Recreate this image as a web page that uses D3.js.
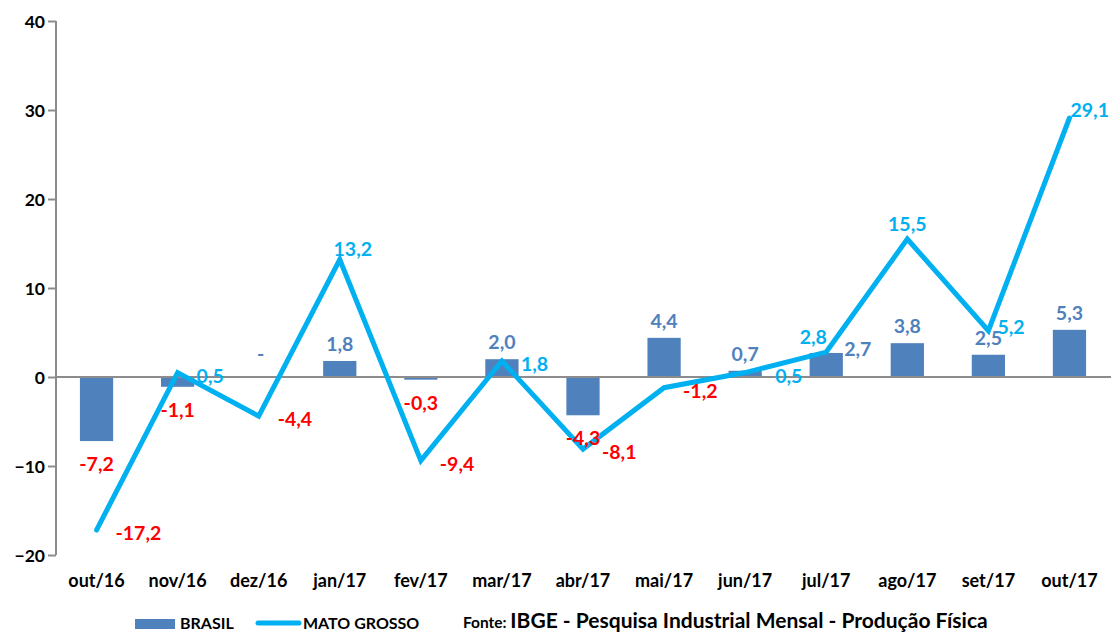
<!DOCTYPE html>
<html><head><meta charset="utf-8">
<script src="https://cdn.jsdelivr.net/npm/d3@7"></script>
<style>body{margin:0;background:#fff}svg{display:block}text{font-family:Lato,"Open Sans",sans-serif;font-weight:700}</style>
</head><body>
<svg id="c" width="1111" height="633"></svg>
<script>
const categories = ["out/16","nov/16","dez/16","jan/17","fev/17","mar/17","abr/17","mai/17","jun/17","jul/17","ago/17","set/17","out/17"];
const brasil = [-7.2,-1.1,0,1.8,-0.3,2.0,-4.3,4.4,0.7,2.7,3.8,2.5,5.3];
const matoGrosso = [-17.2,0.5,-4.4,13.2,-9.4,1.8,-8.1,-1.2,0.5,2.8,15.5,5.2,29.1];
const yTicks = [-20,-10,0,10,20,30,40];
// label placement (style only)
const brasilPos = ["below","below","dash","above","below","above","below","above","above","right","above","above","above"];
const mtPos = ["right","right","right","aboveright","right","right","right","right","farright","aboveleft","above","nearright","corner"];

const svg = d3.select("#c");
const x = d3.scaleBand().domain(categories).range([56,1110]).paddingInner(0.59).paddingOuter(0.295);
const y = d3.scaleLinear().domain([-20,40]).range([555,21]);
const cx = d => x(d) + x.bandwidth()/2;
const fmt = v => v.toFixed(1).replace(".", ",");
const barColor = "#4F81BD", lineColor = "#00B0F0", red = "#FF0000";

// y axis
const ya = svg.append("g").attr("transform","translate(56,0)")
  .call(d3.axisLeft(y).tickValues(yTicks).tickSize(8).tickPadding(6).tickFormat(d3.format("d")));
ya.select(".domain").attr("stroke","#8c8c8c").attr("stroke-width",2).attr("d","M0,21V555");
ya.selectAll(".tick line").attr("stroke","#8c8c8c").attr("stroke-width",2);
ya.selectAll(".tick text").attr("font-size",17.5).attr("fill","#000").attr("x",-11).attr("dy","0.35em");

// bars
svg.selectAll("rect.bar").data(brasil).join("rect").attr("class","bar")
  .attr("x",(d,i)=>x(categories[i])).attr("width",x.bandwidth())
  .attr("y",d=>y(Math.max(0,d))).attr("height",d=>Math.abs(y(d)-y(0)))
  .attr("fill",barColor);

// zero line
svg.append("line").attr("x1",56).attr("x2",1111).attr("y1",y(0)).attr("y2",y(0)).attr("stroke","#8c8c8c").attr("stroke-width",2);

// category labels
svg.selectAll("text.cat").data(categories).join("text").attr("class","cat")
  .attr("x",d=>cx(d)).attr("y",587).attr("text-anchor","middle").attr("font-size",18).attr("fill","#000").text(d=>d);

// line
const line = d3.line().x((d,i)=>cx(categories[i])).y(d=>y(d));
svg.append("path").datum(matoGrosso).attr("d",line).attr("fill","none")
  .attr("stroke",lineColor).attr("stroke-width",5).attr("stroke-linejoin","miter").attr("stroke-linecap","round");

// brasil labels
brasil.forEach((v,i)=>{
  const px = cx(categories[i]); const py = y(v);
  const p = brasilPos[i];
  const t = svg.append("text").attr("font-size",19.5).attr("fill", v<0?red:barColor);
  if(p==="below"){ t.attr("x",px).attr("y",y(v)+30).attr("text-anchor","middle").text(fmt(v)); }
  else if(p==="above"){ t.attr("x",px).attr("y",py-10).attr("text-anchor","middle").text(fmt(v)); }
  else if(p==="right"){ t.attr("x",px+18).attr("y",py+3).attr("text-anchor","start").text(fmt(v)); }
  else { t.attr("x",px+2).attr("y",py-16).attr("text-anchor","middle").attr("fill",barColor).text("-"); }
});
// mato grosso labels
matoGrosso.forEach((v,i)=>{
  const px = cx(categories[i]); const py = y(v);
  const p = mtPos[i];
  const t = svg.append("text").attr("font-size",19.5).attr("fill", v<0?red:lineColor).text(fmt(v));
  if(p==="right"){ t.attr("x",px+19).attr("y",py+10).attr("text-anchor","start"); }
  else if(p==="farright"){ t.attr("x",px+30).attr("y",py+10).attr("text-anchor","start"); }
  else if(p==="nearright"){ t.attr("x",px+9).attr("y",py+3).attr("text-anchor","start"); }
  else if(p==="above"){ t.attr("x",px).attr("y",py-8).attr("text-anchor","middle"); }
  else if(p==="aboveright"){ t.attr("x",px+13).attr("y",py-4).attr("text-anchor","middle"); }
  else if(p==="aboveleft"){ t.attr("x",px-13).attr("y",py-8).attr("text-anchor","middle"); }
  else { t.attr("x",px+1).attr("y",py-1).attr("text-anchor","start"); }
});

// legend
svg.append("rect").attr("x",135).attr("y",619).attr("width",40).attr("height",10).attr("fill",barColor);
svg.append("text").attr("x",180).attr("y",629).attr("font-size",16).attr("fill","#000").text("BRASIL");
svg.append("line").attr("x1",258).attr("x2",299).attr("y1",623).attr("y2",623).attr("stroke",lineColor).attr("stroke-width",5).attr("stroke-linecap","round");
svg.append("text").attr("x",303).attr("y",629).attr("font-size",16).attr("fill","#000").text("MATO GROSSO");
const src = svg.append("text").attr("x",463).attr("y",628).attr("fill","#000");
src.append("tspan").attr("font-size",15.5).text("Fonte: ");
src.append("tspan").attr("font-size",21).text("IBGE - Pesquisa Industrial Mensal - Produção Física");
</script>
</body></html>
